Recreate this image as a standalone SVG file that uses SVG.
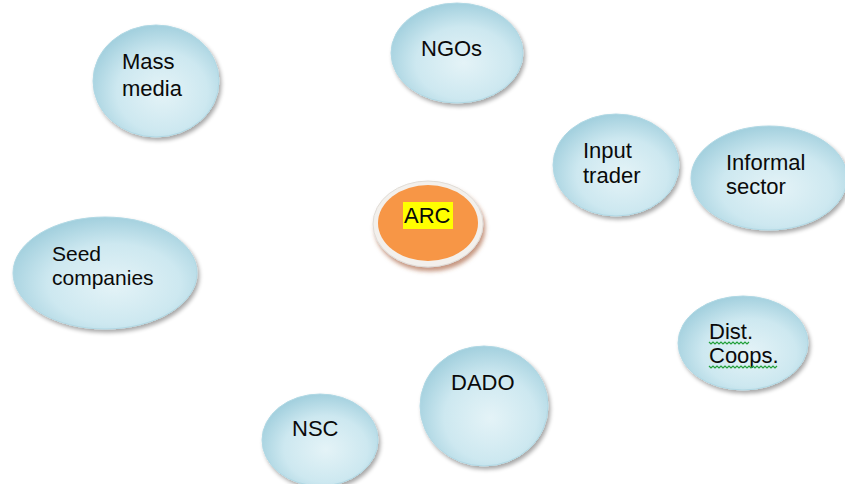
<svg xmlns="http://www.w3.org/2000/svg" width="845" height="484" viewBox="0 0 845 484">
  <defs>
    <radialGradient id="bubble" cx="0.55" cy="0.6" r="0.6">
      <stop offset="0" stop-color="#e4f3f7"/>
      <stop offset="0.6" stop-color="#cde8f0"/>
      <stop offset="1" stop-color="#a3d0de"/>
    </radialGradient>
    <filter id="shadow" x="-20%" y="-20%" width="140%" height="140%">
      <feGaussianBlur in="SourceAlpha" stdDeviation="2"/>
      <feOffset dx="2" dy="3" result="b"/>
      <feComponentTransfer><feFuncA type="linear" slope="0.35"/></feComponentTransfer>
      <feMerge><feMergeNode/><feMergeNode in="SourceGraphic"/></feMerge>
    </filter>
    <filter id="hubShadow" x="-20%" y="-20%" width="140%" height="140%">
      <feGaussianBlur in="SourceAlpha" stdDeviation="2"/>
      <feOffset dx="2" dy="4" result="b"/>
      <feFlood flood-color="#a0522d" flood-opacity="0.6"/>
      <feComposite in2="b" operator="in"/>
      <feMerge><feMergeNode/><feMergeNode in="SourceGraphic"/></feMerge>
    </filter>
  </defs>
  <style>
    .node { fill: url(#bubble); stroke: #b0d8e4; stroke-width: 1; filter: url(#shadow); }
    .label { font-family: "Liberation Sans", Arial, sans-serif; font-size: 22px; fill: #0a0a0a; }
    .small { font-size: 21px; }
    .squiggle { fill: none; stroke: #22a03a; stroke-width: 1.2; }
  </style>
  <rect width="845" height="484" fill="#ffffff"/>

  <g id="mass-media">
    <ellipse class="node" cx="156" cy="81" rx="63" ry="56"/>
    <text class="label" x="122" y="69">Mass</text>
    <text class="label" x="122" y="96">media</text>
  </g>

  <g id="ngos">
    <ellipse class="node" cx="457" cy="53" rx="66" ry="50"/>
    <text class="label" x="421" y="56">NGOs</text>
  </g>

  <g id="input-trader">
    <ellipse class="node" cx="616" cy="165" rx="63" ry="51"/>
    <text class="label" x="583" y="158">Input</text>
    <text class="label" x="583" y="183">trader</text>
  </g>

  <g id="informal-sector">
    <ellipse class="node" cx="769" cy="178" rx="78" ry="52"/>
    <text class="label" x="726" y="170">Informal</text>
    <text class="label" x="726" y="194">sector</text>
  </g>

  <g id="arc">
    <ellipse cx="428" cy="224" rx="55" ry="43" fill="#f3f0ec" stroke="#e0dcd6" stroke-width="1" filter="url(#hubShadow)"/>
    <ellipse cx="428" cy="223" rx="50" ry="38" fill="#f79646"/>
    <rect x="403" y="202" width="50" height="27" fill="#ffff00"/>
    <text class="label" x="404" y="223">ARC</text>
  </g>

  <g id="seed-companies">
    <ellipse class="node" cx="105" cy="273" rx="92" ry="56"/>
    <text class="label small" x="52" y="261">Seed</text>
    <text class="label small" x="52" y="285">companies</text>
  </g>

  <g id="dist-coops">
    <ellipse class="node" cx="743" cy="343" rx="65" ry="47"/>
    <text class="label" x="709" y="339">Dist.</text>
    <text class="label" x="709" y="363">Coops.</text>
    <!-- spell-check style wavy underlines -->
    <path class="squiggle" d="M709 342 l2 2 l2 -2 l2 2 l2 -2 l2 2 l2 -2 l2 2 l2 -2 l2 2 l2 -2 l2 2 l2 -2 l2 2 l2 -2 l2 2 l2 -2 l2 2 l2 -2 l2 2 l2 -2"/>
    <path class="squiggle" d="M709 366 l2 2 l2 -2 l2 2 l2 -2 l2 2 l2 -2 l2 2 l2 -2 l2 2 l2 -2 l2 2 l2 -2 l2 2 l2 -2 l2 2 l2 -2 l2 2 l2 -2 l2 2 l2 -2 l2 2 l2 -2 l2 2 l2 -2 l2 2 l2 -2 l2 2 l2 -2 l2 2 l2 -2 l2 2 l2 -2 l2 2 l2 -2"/>
  </g>

  <g id="dado">
    <ellipse class="node" cx="484" cy="406" rx="64" ry="60"/>
    <text class="label" x="451" y="390">DADO</text>
  </g>

  <g id="nsc">
    <ellipse class="node" cx="320" cy="440" rx="58" ry="46"/>
    <text class="label" x="292" y="436">NSC</text>
  </g>

  <g id="connectors"></g>
</svg>
